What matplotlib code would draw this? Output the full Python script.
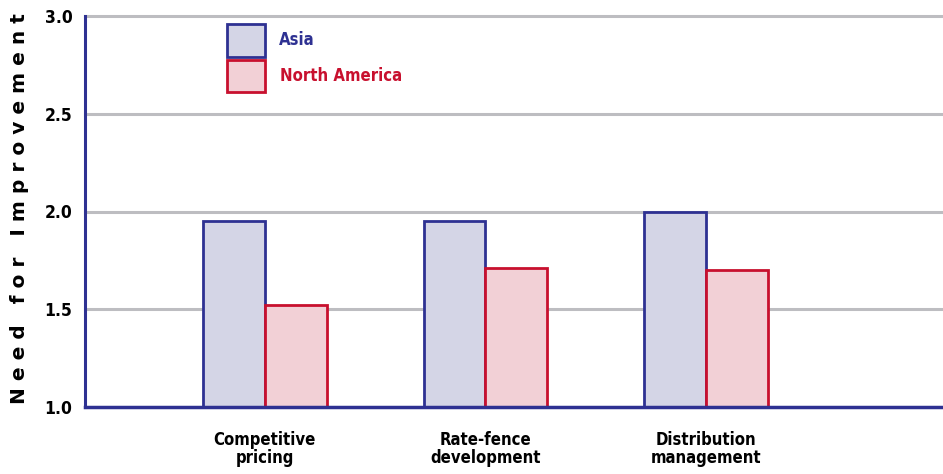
import matplotlib
matplotlib.use("Agg")
import matplotlib.pyplot as plt
from matplotlib.patches import Rectangle
import numpy as np

categories = ["Competitive\npricing", "Rate-fence\ndevelopment", "Distribution\nmanagement"]
asia = [1.95, 1.95, 2.00]
north_america = [1.52, 1.71, 1.70]
yticks = [1.0, 1.5, 2.0, 2.5, 3.0]
ytick_labels = ["1.0", "1.5", "2.0", "2.5", "3.0"]

BLUE = "#2e3192"
RED = "#c8102e"
ASIA_FILL = "#d4d5e6"
NA_FILL = "#f2d0d6"
GRID = "#bdbdc1"

fp = dict(family="DejaVu Sans", fontstretch="condensed", fontweight="bold")

fig = plt.figure(figsize=(9.43, 4.74), dpi=100)
ax = fig.add_axes([85/943, 1-407/474, 1-85/943, (407-16)/474])

x = np.arange(1, len(categories)+1)
w = 0.28
ax.bar(x - w/2, np.array(asia)-1.0, bottom=1.0, width=w, color=ASIA_FILL,
       edgecolor=BLUE, linewidth=2.0, zorder=3)
ax.bar(x + w/2, np.array(north_america)-1.0, bottom=1.0, width=w, color=NA_FILL,
       edgecolor=RED, linewidth=2.0, zorder=3)

ax.set_xlim(0.184, 4.075)
ax.set_ylim(1.0, 3.0)
for yv in yticks[1:]:
    ax.axhline(yv, color=GRID, linewidth=2.2, zorder=1, clip_on=False)

ax.set_yticks(yticks)
ax.set_yticklabels(ytick_labels, fontsize=12.5, color="black", **fp)
ax.set_xticks(x)
ax.set_xticklabels(categories, fontsize=12, color="black", linespacing=1.05, **fp)
ax.tick_params(axis="both", length=0)
ax.tick_params(axis="y", pad=9)
ax.tick_params(axis="x", pad=17)

for s in ["top", "right"]:
    ax.spines[s].set_visible(False)
ax.spines["left"].set_color(BLUE)
ax.spines["left"].set_linewidth(2.2)
ax.spines["bottom"].set_color(BLUE)
ax.spines["bottom"].set_linewidth(2.5)
ax.spines["bottom"].set_zorder(5)

fig.text(20/943, 1-209/474, "N e e d   f o r   I m p r o v e m e n t",
         rotation=90, ha="center", va="center", fontsize=14.5,
         fontweight="bold", family="DejaVu Sans", color="black")

# legend
def fx(px):
    return px/943
def fy(py):
    return 1-py/474
fig.patches.append(Rectangle((fx(227), fy(57)), 38/943, 33/474, facecolor=ASIA_FILL,
                             edgecolor=BLUE, linewidth=2.0, transform=fig.transFigure))
fig.patches.append(Rectangle((fx(227), fy(92)), 38/943, 32/474, facecolor=NA_FILL,
                             edgecolor=RED, linewidth=2.0, transform=fig.transFigure))
fig.text(fx(279), fy(40), "Asia", color=BLUE, fontsize=12, va="center", ha="left", **fp)
fig.text(fx(280), fy(76), "North America", color=RED, fontsize=12, va="center", ha="left", **fp)

fig.savefig("out.png", dpi=100)
